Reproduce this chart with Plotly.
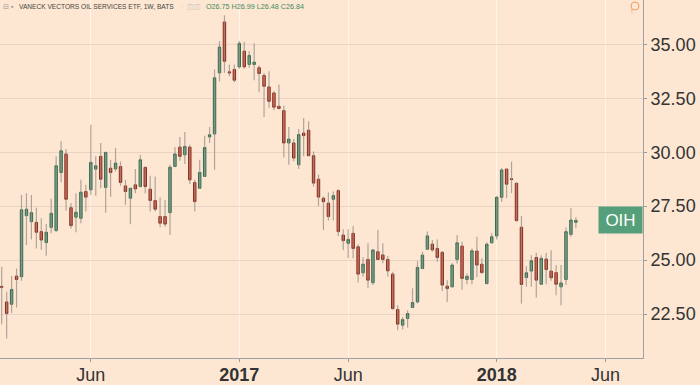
import pandas as pd
import plotly.graph_objects as go

# Weekly OHLC data (OIH, 1W)
week_start = "2016-02-01"
opens = [23.78, 23.06, 22.95, 24.26, 24.23, 27.06, 26.78, 26.75, 26.32, 25.81,
         26.52, 26.37, 29.06, 29.92, 27.43, 26.99, 26.94, 28.18, 28.26, 29.22,
         29.81, 28.37, 29.26, 29.23, 29.34, 28.44, 27.87, 28.49, 28.41, 29.30,
         28.29, 27.76, 27.02, 27.02, 27.20, 29.34, 30.24, 29.88, 30.24, 28.60,
         28.33, 28.88, 30.71, 30.85, 33.68, 36.04, 33.73, 33.84, 33.96, 34.69,
         34.07, 34.07, 33.92, 33.56, 33.03, 32.75, 32.13, 31.93, 30.43, 30.43,
         29.42, 30.89, 31.02, 29.84, 28.75, 27.87, 27.64, 27.82, 28.22, 26.16,
         25.78, 26.24, 25.62, 24.41, 25.03, 23.95, 25.39, 25.24, 25.03, 24.35,
         22.71, 21.98, 22.29, 22.80, 23.06, 24.61, 25.50, 25.74, 25.54, 25.36,
         23.79, 23.76, 25.03, 25.65, 24.10, 24.10, 25.42, 24.81, 23.91, 25.80,
         26.12, 27.91, 29.22, 28.77, 28.56, 26.52, 24.19, 24.49, 25.12, 23.88,
         25.05, 24.49, 24.42, 23.76, 24.10, 26.19, 26.75]
highs = [24.69, 23.53, 24.26, 24.61, 28.02, 28.10, 28.02, 27.43, 26.94, 26.67,
         27.84, 29.81, 30.51, 30.15, 27.64, 28.10, 28.72, 28.49, 31.28, 29.81,
         30.43, 30.04, 29.65, 30.19, 29.57, 28.72, 28.33, 29.22, 29.88, 29.33,
         28.91, 28.88, 27.90, 27.79, 29.42, 30.24, 30.71, 30.94, 30.35, 28.72,
         29.65, 30.77, 31.17, 33.84, 35.16, 36.35, 34.07, 34.07, 35.16, 35.11,
         34.69, 35.05, 34.02, 33.68, 33.76, 32.83, 33.14, 32.16, 31.17, 30.61,
         31.08, 31.59, 31.44, 30.04, 28.96, 27.95, 28.13, 28.18, 28.29, 26.43,
         26.43, 26.58, 25.73, 25.13, 25.78, 25.50, 26.40, 25.78, 25.19, 24.46,
         22.91, 22.36, 22.67, 23.69, 24.95, 25.39, 26.32, 25.93, 25.96, 25.42,
         24.07, 24.85, 26.16, 25.85, 24.38, 25.54, 26.08, 25.08, 25.81, 26.24,
         27.98, 29.26, 29.22, 29.57, 28.60, 27.05, 24.72, 25.23, 25.34, 25.23,
         25.34, 25.46, 24.77, 24.77, 26.52, 27.40, 26.99]
lows = [22.02, 21.36, 22.55, 22.80, 24.04, 25.70, 25.96, 25.54, 25.47, 25.20,
        26.24, 26.30, 28.61, 27.29, 26.47, 26.29, 26.71, 27.25, 28.02, 27.98,
        28.33, 27.20, 27.94, 29.11, 28.44, 27.56, 26.66, 28.10, 28.38, 28.10,
        27.25, 27.25, 26.52, 26.55, 26.16, 29.30, 29.61, 29.45, 28.53, 27.25,
        28.30, 28.85, 30.43, 29.19, 33.29, 33.68, 33.53, 33.25, 33.87, 33.87,
        33.92, 33.34, 32.78, 31.64, 32.06, 31.95, 31.98, 29.76, 29.42, 29.58,
        29.22, 29.81, 29.81, 28.41, 27.51, 26.39, 26.83, 26.83, 26.12, 25.47,
        25.08, 25.08, 23.96, 24.23, 23.69, 23.84, 25.00, 24.85, 24.23, 22.71,
        21.75, 21.78, 21.87, 22.78, 22.99, 24.58, 25.47, 25.39, 24.92, 23.57,
        23.06, 23.74, 24.84, 23.63, 23.88, 23.88, 24.22, 24.38, 23.88, 25.77,
        25.96, 27.71, 27.87, 28.10, 26.78, 22.98, 23.76, 23.76, 23.26, 23.84,
        23.88, 24.04, 23.37, 22.91, 23.84, 26.08, 26.48]
closes = [23.74, 22.52, 23.64, 24.10, 27.33, 27.36, 27.20, 26.29, 25.93, 26.29,
          27.17, 29.37, 30.07, 27.82, 26.60, 27.22, 28.15, 27.92, 29.53, 29.37,
          28.75, 29.99, 29.06, 29.50, 28.60, 28.18, 28.33, 28.30, 29.65, 28.41,
          27.76, 27.36, 26.71, 26.67, 29.31, 29.92, 29.81, 30.27, 28.72, 27.71,
          29.06, 30.22, 30.81, 33.45, 34.88, 34.22, 33.68, 33.34, 35.05, 33.96,
          34.49, 34.18, 33.65, 33.06, 32.36, 32.09, 32.03, 30.43, 30.61, 29.73,
          30.82, 30.77, 29.84, 28.57, 27.92, 27.71, 27.02, 27.99, 26.32, 25.90,
          25.96, 25.54, 24.35, 24.81, 24.07, 25.47, 25.03, 25.03, 24.50, 22.75,
          22.03, 22.24, 22.52, 23.03, 24.66, 25.23, 26.12, 25.47, 25.12, 23.84,
          23.68, 24.77, 25.80, 24.15, 24.25, 25.43, 24.77, 24.42, 25.74, 26.08,
          27.91, 29.18, 28.52, 28.74, 26.83, 23.87, 24.41, 24.97, 24.07, 25.08,
          24.56, 24.18, 23.88, 23.94, 26.32, 26.86, 26.84]

tick_dates = ["2016-06-06", "2017-01-02", "2017-06-05", "2018-01-01", "2018-06-04"]
tick_labels = ["Jun", "<b>2017</b>", "Jun", "<b>2018</b>", "Jun"]
price_ticks = [22.5, 25.0, 27.5, 30.0, 32.5, 35.0]
symbol = "OIH"
title_text = "VANECK VECTORS OIL SERVICES ETF, 1W, BATS"
ohlc_text = "O26.75 H26.99 L26.48 C26.84"

dates = pd.date_range(start=week_start, periods=len(closes), freq="7D")

BG = "#fde7d2"
FONT = "Arial, Liberation Sans, sans-serif"
PW, PH = 643, 358  # plot area size in px

# wicks as gray lines
wx, wy = [], []
for d, lo, hi in zip(dates, lows, highs):
    wx += [d, d, None]
    wy += [lo, hi, None]

fig = go.Figure()
fig.add_trace(go.Scatter(x=wx, y=wy, mode="lines",
                         line=dict(color="rgba(150,142,135,0.75)", width=1.2),
                         hoverinfo="skip", showlegend=False))
fig.add_trace(go.Candlestick(
    x=dates, open=opens, close=closes,
    high=[max(o, c) for o, c in zip(opens, closes)],
    low=[min(o, c) for o, c in zip(opens, closes)],
    increasing=dict(fillcolor="#5c9e7b", line=dict(color="#336b4f", width=1)),
    decreasing=dict(fillcolor="#d9452f", line=dict(color="#8c2a1c", width=1)),
    whiskerwidth=0, showlegend=False, hoverinfo="skip"))

fig.update_layout(
    width=700, height=385,
    margin=dict(l=0, r=57, t=0, b=27, autoexpand=False),
    paper_bgcolor=BG, plot_bgcolor=BG,
    font=dict(family=FONT, color="#333333"),
    showlegend=False, hovermode=False,
    xaxis=dict(
        type="date",
        range=["2016-01-29 14:00", "2018-07-26 22:00"],
        rangeslider=dict(visible=False),
        tickvals=tick_dates, ticktext=tick_labels,
        tickfont=dict(size=18, color="#333333"),
        ticks="outside", ticklen=3, tickcolor="#9a9a9a",
        ticklabelstandoff=-3,
        showgrid=True, gridcolor="rgba(255,246,236,0.9)", gridwidth=1,
        showline=True, linecolor="#a0a0a0", linewidth=1,
        zeroline=False, fixedrange=True, automargin=False,
    ),
    yaxis=dict(
        side="right",
        range=[20.46, 37.06],
        tickvals=price_ticks,
        tickformat=".2f",
        tickfont=dict(size=18, color="#333333"),
        ticks="outside", ticklen=3, tickcolor="#9a9a9a",
        showgrid=True, gridcolor="rgba(225,205,190,0.75)", gridwidth=1,
        showline=True, linecolor="#a0a0a0", linewidth=1,
        zeroline=False, fixedrange=True, automargin=False,
    ),
)

# header line pieces
hy = 1 - 7 / PH
for xpx, txt, col, sz in [(1, "⊟ ▪", "#9a9a9a", 7.2),
                          (17, title_text, "#444444", 6.6),
                          (179, "·  ◫◫", "#bbbbbb", 6.6),
                          (204, ohlc_text, "#3f8a5f", 7.2)]:
    fig.add_annotation(xref="paper", yref="paper", x=xpx / PW, y=hy,
                       xanchor="left", yanchor="middle", showarrow=False,
                       text=txt, font=dict(size=sz, color=col, family=FONT))

# last price label
fig.add_annotation(
    xref="paper", yref="y", x=1, y=closes[-1], xanchor="right", yanchor="middle",
    showarrow=False, text=symbol, bgcolor="#55a07a",
    font=dict(size=17, color="white", family=FONT),
    width=41, height=24, borderpad=1,
)

# small orange indicator top right
fig.add_shape(type="circle", xref="paper", yref="paper",
              xsizemode="pixel", ysizemode="pixel",
              xanchor=635 / PW, yanchor=1 - 6 / PH,
              x0=-4, x1=4, y0=-4, y1=4,
              line=dict(color="#f0a060", width=1))
fig.add_annotation(xref="paper", yref="paper", x=635 / PW, y=1 - 6 / PH,
                   showarrow=False, text="!", font=dict(size=7, color="#f0a060"))

fig.write_html("out.html", config={"displayModeBar": False},
               post_script="document.body.style.margin='0';document.body.style.overflow='hidden';")
